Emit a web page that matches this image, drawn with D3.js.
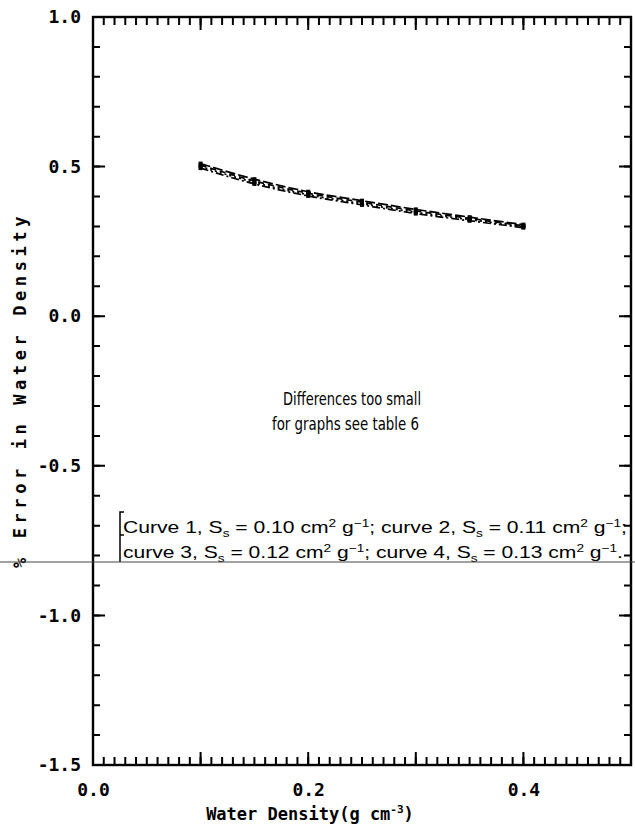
<!DOCTYPE html>
<html><head><meta charset="utf-8">
<script src="https://cdn.jsdelivr.net/npm/d3@7/dist/d3.min.js"></script>
<style>body{margin:0;background:#fff}svg{display:block}</style>
</head><body>
<svg id="c" width="635" height="829"></svg>
<script>
const xValues = [0.10, 0.15, 0.20, 0.25, 0.30, 0.35, 0.40];
const curve1 = [0.510, 0.458, 0.416, 0.386, 0.357, 0.331, 0.306];
const curve2 = [0.505, 0.452, 0.411, 0.381, 0.352, 0.327, 0.302];
const curve3 = [0.500, 0.447, 0.406, 0.376, 0.347, 0.323, 0.299];
const curve4 = [0.495, 0.442, 0.402, 0.372, 0.343, 0.319, 0.296];
const xTickLabels = [0.0, 0.2, 0.4];
const yTickLabels = [1.0, 0.5, 0.0, -0.5, -1.0, -1.5];

const svg = d3.select("#c");
const x = d3.scaleLinear().domain([0, 0.5]).range([93, 631]);
const y = d3.scaleLinear().domain([-1.5, 1.0]).range([765, 17]);

const minorX = d3.range(1, 50).map(i => i / 100);
const majorX = d3.range(1, 5).map(i => i / 10);
const minorY = d3.range(-14, 10).map(i => i / 10);
const majorY = [0.5, 0.0, -0.5, -1.0];

// frame
svg.append("rect").attr("x", x(0)).attr("y", y(1.0))
  .attr("width", x(0.5) - x(0)).attr("height", y(-1.5) - y(1.0))
  .attr("fill", "none").attr("stroke", "#000").attr("stroke-width", 2.4);

// ticks as single paths (inward)
const tickPaths = [
  minorX.map(d => `M${x(d)},${y(-1.5)}v-8`).join(""),
  majorX.map(d => `M${x(d)},${y(-1.5)}v-13`).join(""),
  minorX.map(d => `M${x(d)},${y(1.0)}v8`).join(""),
  majorX.map(d => `M${x(d)},${y(1.0)}v13`).join(""),
  minorY.map(d => `M${x(0)},${y(d)}h7`).join(""),
  majorY.map(d => `M${x(0)},${y(d)}h12`).join(""),
  minorY.map(d => `M${x(0.5)},${y(d)}h-7`).join(""),
  majorY.map(d => `M${x(0.5)},${y(d)}h-12`).join("")
];
svg.append("g").selectAll("path").data(tickPaths).join("path")
  .attr("d", d => d).attr("fill", "none").attr("stroke", "#000").attr("stroke-width", 2);

const monoFont = "'DejaVu Sans Mono', 'Liberation Mono', monospace";
// tick labels via d3 axes (lines hidden)
const xAxis = svg.append("g").attr("transform", `translate(0,${y(-1.5)})`)
  .call(d3.axisBottom(x).tickValues(xTickLabels).tickSize(0).tickPadding(18).tickFormat(d3.format(".1f")));
const yAxis = svg.append("g").attr("transform", `translate(${x(0)},0)`)
  .call(d3.axisLeft(y).tickValues(yTickLabels).tickSize(0).tickPadding(12).tickFormat(d3.format(".1f")));
[xAxis, yAxis].forEach(g => {
  g.select(".domain").remove();
  g.selectAll("text").attr("font-family", monoFont).attr("font-size", 18)
    .attr("font-weight", "bold").attr("fill", "#000");
});
yAxis.selectAll("text").text(d => d3.format(".1f")(d).replace("−", "-"));
xAxis.selectAll("text").text(d => d3.format(".1f")(d));

// axis titles
const xt = svg.append("text").attr("x", 310).attr("y", 820).attr("text-anchor", "middle")
  .attr("font-family", monoFont).attr("font-size", 17).attr("font-weight", "bold");
xt.append("tspan").text("Water Density(g cm");
xt.append("tspan").attr("dy", -7).attr("font-size", 11).text("-3");
xt.append("tspan").attr("dy", 7).text(")");

svg.append("text").attr("transform", "translate(26,390) rotate(-90)")
  .attr("text-anchor", "middle").attr("font-family", monoFont).attr("font-size", 17)
  .attr("font-weight", "bold").attr("letter-spacing", 4.6).text("% Error in Water Density");

// curves
const series = [curve1, curve2, curve3, curve4];
const dashes = ["10,3", "6,4", "2,3", "8,3,2,3"];
const line = d3.line().x((d, i) => x(xValues[i])).y(d => y(d)).curve(d3.curveMonotoneX);
series.forEach((s, k) => {
  svg.append("path").datum(s).attr("d", line).attr("fill", "none")
    .attr("stroke", "#000").attr("stroke-width", 1.7)
    .attr("stroke-dasharray", dashes[k]);
  svg.append("g").selectAll("rect").data(s).join("rect")
    .attr("x", (d, i) => x(xValues[i]) - 2).attr("y", d => y(d) - 2)
    .attr("width", 4).attr("height", 4).attr("fill", "#000");
});

// annotation
const sansC = "'DejaVu Sans Condensed', 'DejaVu Sans', sans-serif";
svg.append("text").attr("x", 283).attr("y", 405).attr("font-family", sansC)
  .attr("font-stretch", "condensed").attr("font-size", 17.5)
  .attr("textLength", 138).attr("lengthAdjust", "spacingAndGlyphs").text("Differences too small");
svg.append("text").attr("x", 272).attr("y", 430).attr("font-family", sansC)
  .attr("font-stretch", "condensed").attr("font-size", 17.5)
  .attr("textLength", 147).attr("lengthAdjust", "spacingAndGlyphs").text("for graphs see table 6");

// legend caption
const legendLines = [
  [["Curve 1, S", 0], ["s", 1], [" = 0.10 cm", 0], ["2", -1], [" g", 0], ["−1", -1], ["; curve 2, S", 0], ["s", 1], [" = 0.11 cm", 0], ["2", -1], [" g", 0], ["−1", -1], [";", 0]],
  [["curve 3, S", 0], ["s", 1], [" = 0.12 cm", 0], ["2", -1], [" g", 0], ["−1", -1], ["; curve 4, S", 0], ["s", 1], [" = 0.13 cm", 0], ["2", -1], [" g", 0], ["−1", -1], [".", 0]]
];
const legendY = [533, 558];
const legendW = [504, 500];
legendLines.forEach((parts, li) => {
  const t = svg.append("text").attr("x", 123).attr("y", legendY[li])
    .attr("font-family", "'Liberation Sans', Arial, sans-serif").attr("font-size", 17)
    .attr("textLength", legendW[li]).attr("lengthAdjust", "spacingAndGlyphs");
  let prev = 0;
  parts.forEach(([s, p]) => {
    const off = p === 1 ? 4 : p === -1 ? -6 : 0;
    t.append("tspan").attr("dy", off - prev).attr("font-size", p === 0 ? 17 : 11).text(s);
    prev = off;
  });
});
// bracket fragment left of caption
svg.append("path").attr("d", "M124,512 L120,512 L120,562 M120,535 L124,535")
  .attr("fill", "none").attr("stroke", "#000").attr("stroke-width", 1.5);

// horizontal rule across the page
svg.append("line").attr("x1", 0).attr("x2", 635).attr("y1", 562).attr("y2", 562)
  .attr("stroke", "#444").attr("stroke-width", 1);
</script>
</body></html>
